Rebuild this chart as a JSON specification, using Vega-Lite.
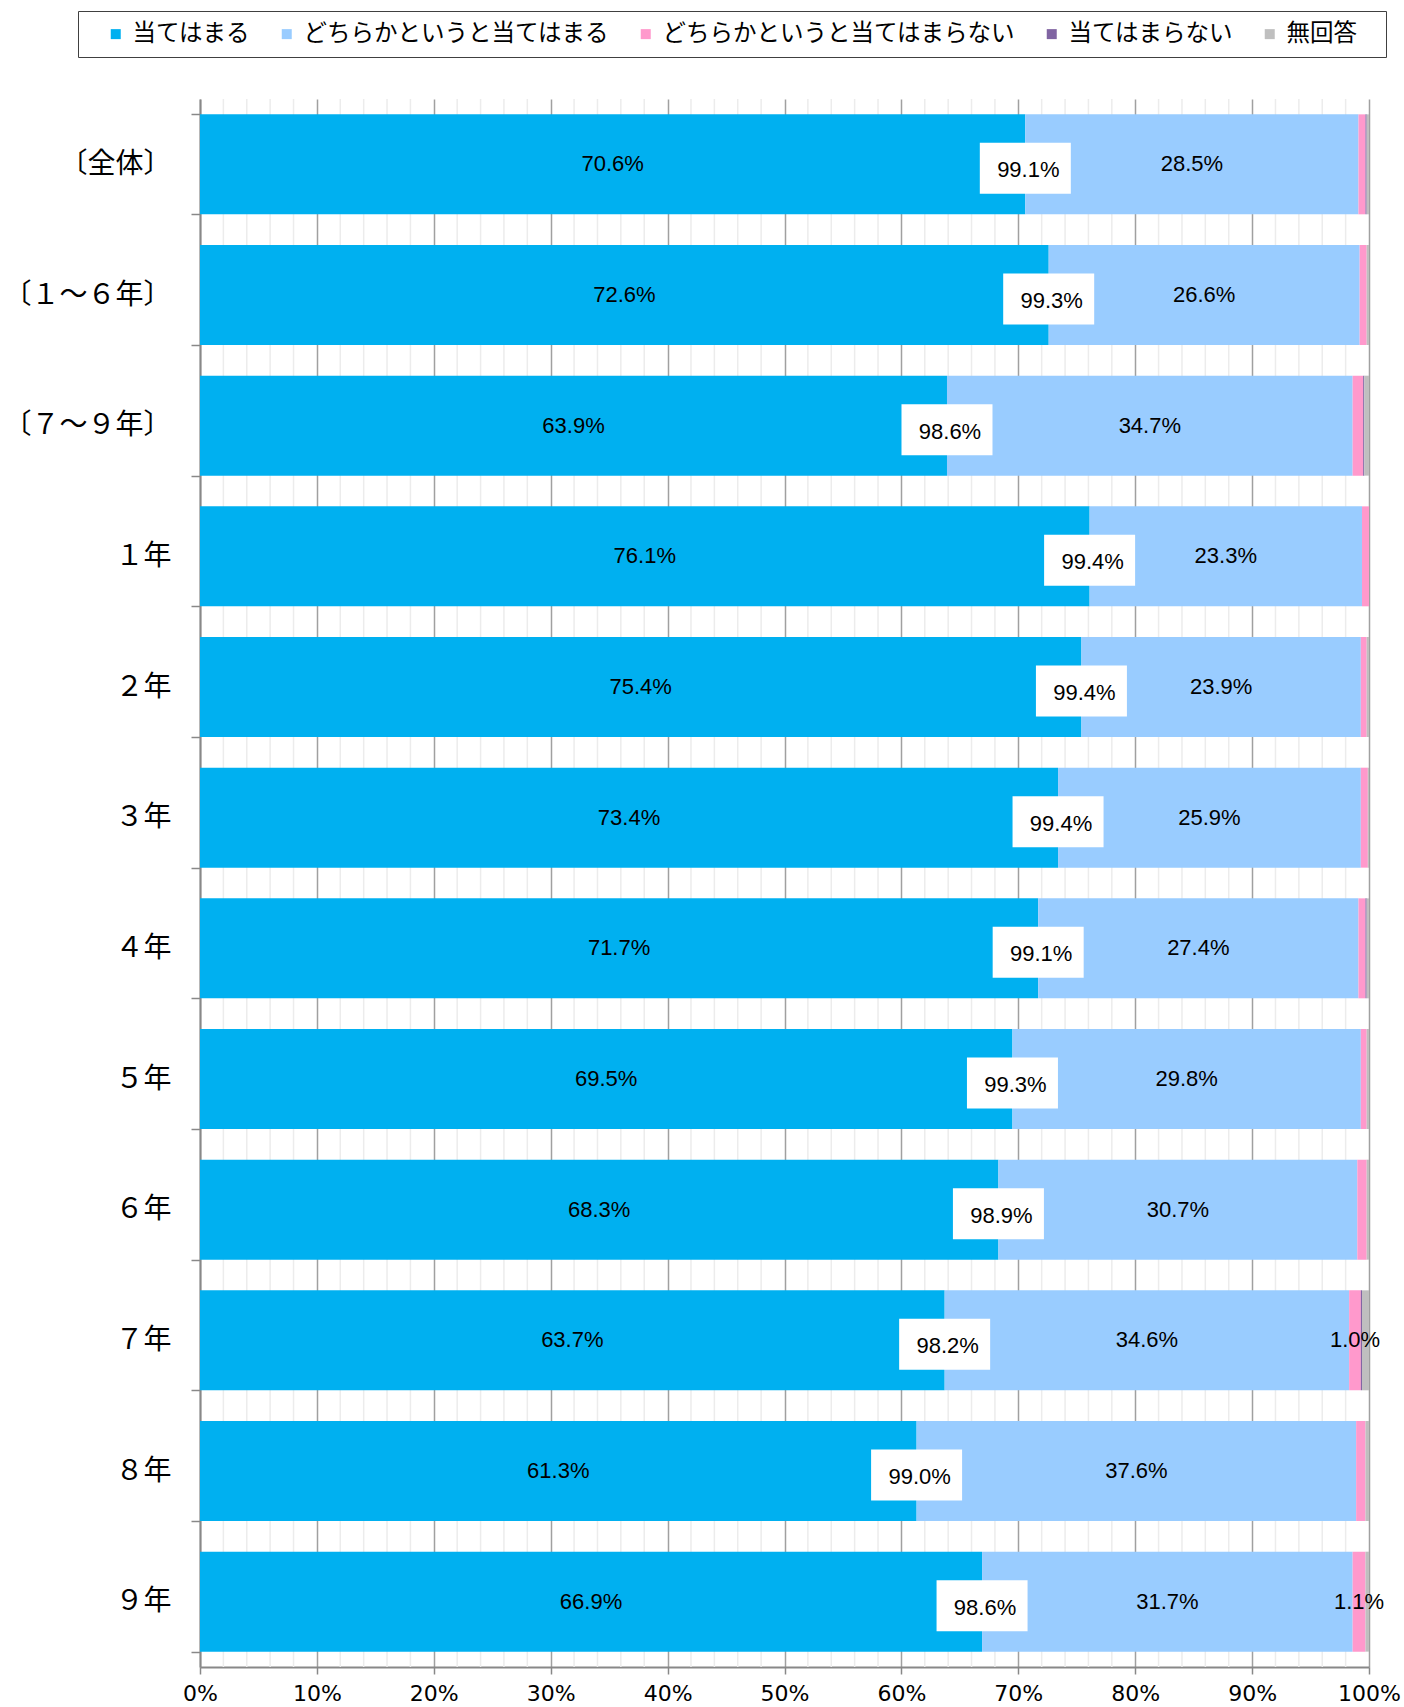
{
  "$schema": "https://vega.github.io/schema/vega-lite/v6.json",
  "width": 1169,
  "height": 1568,
  "autosize": "none",
  "padding": {"left": 200, "top": 99, "right": 35, "bottom": 40},
  "background": "white",
  "config": {"view": {"stroke": null}},
  "datasets": {
    "minor": [
      {"g": 2}, {"g": 4}, {"g": 6}, {"g": 8}, {"g": 12}, {"g": 14}, {"g": 16}, {"g": 18},
      {"g": 22}, {"g": 24}, {"g": 26}, {"g": 28}, {"g": 32}, {"g": 34}, {"g": 36}, {"g": 38},
      {"g": 42}, {"g": 44}, {"g": 46}, {"g": 48}, {"g": 52}, {"g": 54}, {"g": 56}, {"g": 58},
      {"g": 62}, {"g": 64}, {"g": 66}, {"g": 68}, {"g": 72}, {"g": 74}, {"g": 76}, {"g": 78},
      {"g": 82}, {"g": 84}, {"g": 86}, {"g": 88}, {"g": 92}, {"g": 94}, {"g": 96}, {"g": 98}
    ],
    "totals": [
      {"cat": "〔全体〕", "total": "99.1%"},
      {"cat": "〔１～６年〕", "total": "99.3%"},
      {"cat": "〔７～９年〕", "total": "98.6%"},
      {"cat": "１年", "total": "99.4%"},
      {"cat": "２年", "total": "99.4%"},
      {"cat": "３年", "total": "99.4%"},
      {"cat": "４年", "total": "99.1%"},
      {"cat": "５年", "total": "99.3%"},
      {"cat": "６年", "total": "98.9%"},
      {"cat": "７年", "total": "98.2%"},
      {"cat": "８年", "total": "99.0%"},
      {"cat": "９年", "total": "98.6%"}
    ],
    "answers": [
      {"cat": "〔全体〕", "no": 1, "resp": "当てはまる", "value": 70.6},
      {"cat": "〔全体〕", "no": 2, "resp": "どちらかというと当てはまる", "value": 28.5},
      {"cat": "〔全体〕", "no": 3, "resp": "どちらかというと当てはまらない", "value": 0.6},
      {"cat": "〔全体〕", "no": 4, "resp": "当てはまらない", "value": 0.1},
      {"cat": "〔全体〕", "no": 5, "resp": "無回答", "value": 0.2},
      {"cat": "〔１～６年〕", "no": 1, "resp": "当てはまる", "value": 72.6},
      {"cat": "〔１～６年〕", "no": 2, "resp": "どちらかというと当てはまる", "value": 26.6},
      {"cat": "〔１～６年〕", "no": 3, "resp": "どちらかというと当てはまらない", "value": 0.6},
      {"cat": "〔１～６年〕", "no": 4, "resp": "当てはまらない", "value": 0.0},
      {"cat": "〔１～６年〕", "no": 5, "resp": "無回答", "value": 0.2},
      {"cat": "〔７～９年〕", "no": 1, "resp": "当てはまる", "value": 63.9},
      {"cat": "〔７～９年〕", "no": 2, "resp": "どちらかというと当てはまる", "value": 34.7},
      {"cat": "〔７～９年〕", "no": 3, "resp": "どちらかというと当てはまらない", "value": 0.9},
      {"cat": "〔７～９年〕", "no": 4, "resp": "当てはまらない", "value": 0.1},
      {"cat": "〔７～９年〕", "no": 5, "resp": "無回答", "value": 0.4},
      {"cat": "１年", "no": 1, "resp": "当てはまる", "value": 76.1},
      {"cat": "１年", "no": 2, "resp": "どちらかというと当てはまる", "value": 23.3},
      {"cat": "１年", "no": 3, "resp": "どちらかというと当てはまらない", "value": 0.6},
      {"cat": "１年", "no": 4, "resp": "当てはまらない", "value": 0.0},
      {"cat": "１年", "no": 5, "resp": "無回答", "value": 0.0},
      {"cat": "２年", "no": 1, "resp": "当てはまる", "value": 75.4},
      {"cat": "２年", "no": 2, "resp": "どちらかというと当てはまる", "value": 23.9},
      {"cat": "２年", "no": 3, "resp": "どちらかというと当てはまらない", "value": 0.5},
      {"cat": "２年", "no": 4, "resp": "当てはまらない", "value": 0.0},
      {"cat": "２年", "no": 5, "resp": "無回答", "value": 0.2},
      {"cat": "３年", "no": 1, "resp": "当てはまる", "value": 73.4},
      {"cat": "３年", "no": 2, "resp": "どちらかというと当てはまる", "value": 25.9},
      {"cat": "３年", "no": 3, "resp": "どちらかというと当てはまらない", "value": 0.6},
      {"cat": "３年", "no": 4, "resp": "当てはまらない", "value": 0.0},
      {"cat": "３年", "no": 5, "resp": "無回答", "value": 0.1},
      {"cat": "４年", "no": 1, "resp": "当てはまる", "value": 71.7},
      {"cat": "４年", "no": 2, "resp": "どちらかというと当てはまる", "value": 27.4},
      {"cat": "４年", "no": 3, "resp": "どちらかというと当てはまらない", "value": 0.6},
      {"cat": "４年", "no": 4, "resp": "当てはまらない", "value": 0.1},
      {"cat": "４年", "no": 5, "resp": "無回答", "value": 0.2},
      {"cat": "５年", "no": 1, "resp": "当てはまる", "value": 69.5},
      {"cat": "５年", "no": 2, "resp": "どちらかというと当てはまる", "value": 29.8},
      {"cat": "５年", "no": 3, "resp": "どちらかというと当てはまらない", "value": 0.5},
      {"cat": "５年", "no": 4, "resp": "当てはまらない", "value": 0.0},
      {"cat": "５年", "no": 5, "resp": "無回答", "value": 0.2},
      {"cat": "６年", "no": 1, "resp": "当てはまる", "value": 68.3},
      {"cat": "６年", "no": 2, "resp": "どちらかというと当てはまる", "value": 30.7},
      {"cat": "６年", "no": 3, "resp": "どちらかというと当てはまらない", "value": 0.8},
      {"cat": "６年", "no": 4, "resp": "当てはまらない", "value": 0.0},
      {"cat": "６年", "no": 5, "resp": "無回答", "value": 0.2},
      {"cat": "７年", "no": 1, "resp": "当てはまる", "value": 63.7},
      {"cat": "７年", "no": 2, "resp": "どちらかというと当てはまる", "value": 34.6},
      {"cat": "７年", "no": 3, "resp": "どちらかというと当てはまらない", "value": 1.0},
      {"cat": "７年", "no": 4, "resp": "当てはまらない", "value": 0.1},
      {"cat": "７年", "no": 5, "resp": "無回答", "value": 0.6},
      {"cat": "８年", "no": 1, "resp": "当てはまる", "value": 61.3},
      {"cat": "８年", "no": 2, "resp": "どちらかというと当てはまる", "value": 37.6},
      {"cat": "８年", "no": 3, "resp": "どちらかというと当てはまらない", "value": 0.8},
      {"cat": "８年", "no": 4, "resp": "当てはまらない", "value": 0.0},
      {"cat": "８年", "no": 5, "resp": "無回答", "value": 0.3},
      {"cat": "９年", "no": 1, "resp": "当てはまる", "value": 66.9},
      {"cat": "９年", "no": 2, "resp": "どちらかというと当てはまる", "value": 31.7},
      {"cat": "９年", "no": 3, "resp": "どちらかというと当てはまらない", "value": 1.1},
      {"cat": "９年", "no": 4, "resp": "当てはまらない", "value": 0.0},
      {"cat": "９年", "no": 5, "resp": "無回答", "value": 0.3}
    ]
  },
  "layer": [
    {
      "data": {"name": "minor"},
      "mark": {"type": "rule", "color": "#ececec", "strokeWidth": 1.5},
      "encoding": {
        "x": {"field": "g", "type": "quantitative", "axis": {"title": null}}
      }
    },
    {
      "data": {"name": "answers"},
      "transform": [
        {"stack": "value", "groupby": ["cat"], "sort": [{"field": "no", "order": "ascending"}], "as": ["v0", "v1"]},
        {"calculate": "(datum.v0 + datum.v1) / 2", "as": "mid"},
        {"calculate": "format(datum.value, '.1f') + '%'", "as": "lbl"}
      ],
      "encoding": {
        "y": {
          "field": "cat",
          "type": "nominal",
          "sort": ["〔全体〕", "〔１～６年〕", "〔７～９年〕", "１年", "２年", "３年", "４年", "５年", "６年", "７年", "８年", "９年"],
          "scale": {"paddingInner": 0.235, "paddingOuter": 0.1175},
          "axis": {
            "title": null,
            "tickBand": "extent",
            "domainColor": "#888888",
            "domainWidth": 2,
            "tickColor": "#888888",
            "tickWidth": 1.5,
            "tickSize": 9,
            "labelPadding": 20,
            "labelFont": "Noto Sans CJK JP",
            "labelFontSize": 28,
            "labelColor": "#000000",
            "grid": false
          }
        }
      },
      "layer": [
        {
          "mark": {"type": "bar", "strokeWidth": 0},
          "encoding": {
            "x": {
              "field": "v0",
              "type": "quantitative",
              "scale": {"domain": [0, 100], "nice": false},
              "axis": {
                "title": null,
                "values": [0, 10, 20, 30, 40, 50, 60, 70, 80, 90, 100],
                "grid": true,
                "gridColor": "#a0a0a0",
                "gridWidth": 1.5,
                "tickColor": "#888888",
                "tickWidth": 1.5,
                "tickSize": 7,
                "labelExpr": "datum.value + '%'",
                "labelFont": "DejaVu Sans",
                "labelFontSize": 22,
                "labelColor": "#000000",
                "labelPadding": 9,
                "labelOverlap": false,
                "labelFlush": false,
                "labelBound": false,
                "domainColor": "#888888",
                "domainWidth": 2
              }
            },
            "x2": {"field": "v1"},
            "color": {
              "field": "resp",
              "type": "nominal",
              "scale": {
                "domain": ["当てはまる", "どちらかというと当てはまる", "どちらかというと当てはまらない", "当てはまらない", "無回答"],
                "range": ["#00B0F0", "#99CCFF", "#FF99CC", "#8064A2", "#BFBFBF"]
              },
              "legend": {
                "title": "　",
                "titleOrient": "left",
                "titleFontSize": 10,
                "titlePadding": 15,
                "orient": "none",
                "legendX": -122,
                "legendY": -88,
                "direction": "horizontal",
                "columns": 5,
                "symbolType": "square",
                "symbolSize": 100,
                "symbolStrokeWidth": 0,
                "labelFont": "Noto Sans CJK JP",
                "labelFontSize": 23.5,
                "labelColor": "#000000",
                "labelLimit": 600,
                "labelOffset": 5,
                "labelExpr": "datum.label === '無回答' ? datum.label + '⠀' : datum.label",
                "columnPadding": 25,
                "padding": 11,
                "strokeColor": "#404040",
                "fillColor": "#ffffff"
              }
            }
          }
        },
        {
          "transform": [{"filter": "datum.no <= 2 || datum.value >= 1"}],
          "mark": {"type": "text", "font": "Liberation Sans", "fontSize": 22, "color": "#000000"},
          "encoding": {
            "x": {"field": "mid", "type": "quantitative"},
            "text": {"field": "lbl"}
          }
        },
        {
          "transform": [
            {"filter": "datum.no === 1"},
            {"lookup": "cat", "from": {"data": {"name": "totals"}, "key": "cat", "fields": ["total"]}}
          ],
          "layer": [
            {
              "mark": {"type": "point", "shape": "M-1,-0.56H1V0.56H-1Z", "size": 8281, "filled": true, "fill": "#ffffff", "opacity": 1, "strokeWidth": 0, "yOffset": 4},
              "encoding": {"x": {"field": "v1", "type": "quantitative"}}
            },
            {
              "mark": {"type": "text", "font": "Liberation Sans", "fontSize": 22, "color": "#000000", "dx": 3, "yOffset": 6},
              "encoding": {
                "x": {"field": "v1", "type": "quantitative"},
                "text": {"field": "total"}
              }
            }
          ]
        }
      ]
    }
  ]
}
